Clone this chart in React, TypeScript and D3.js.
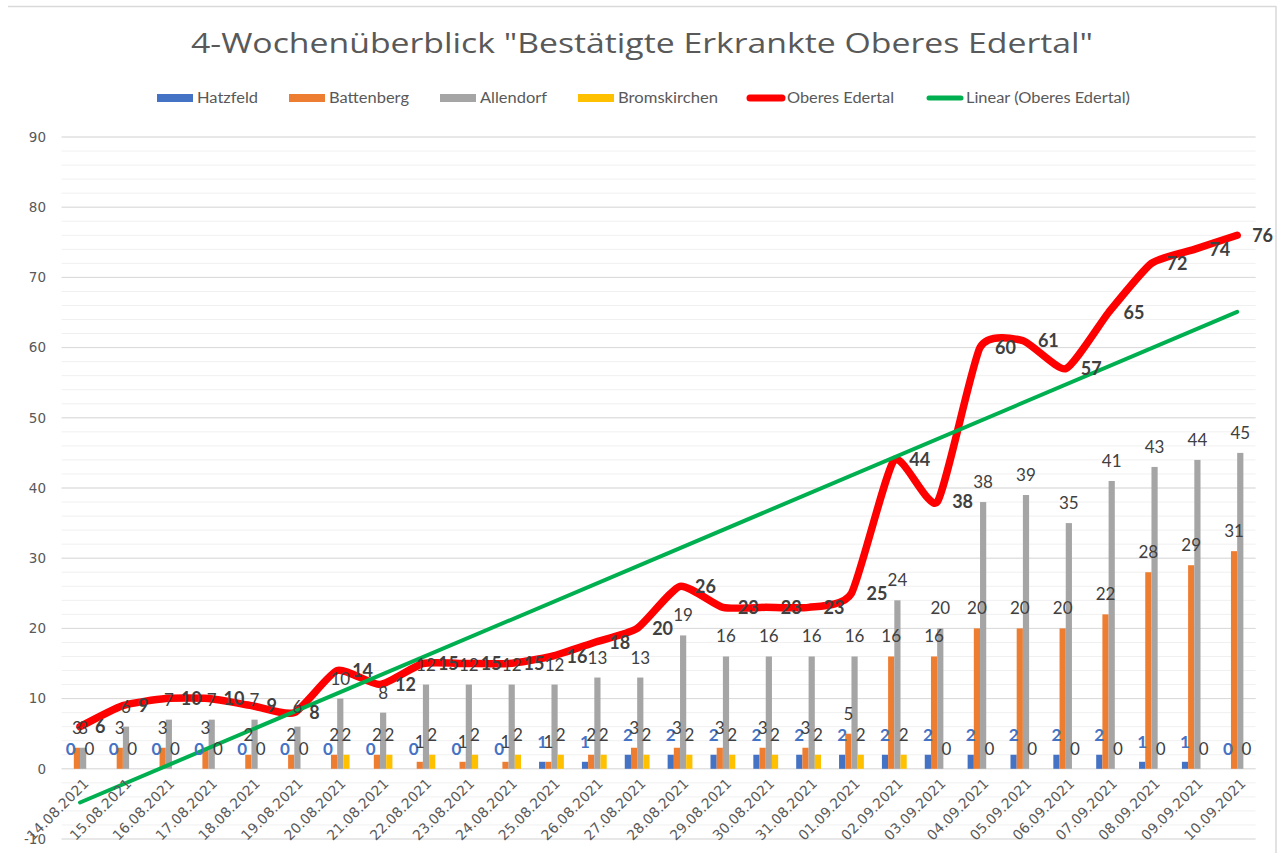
import React from 'react';
import * as d3 from 'd3';

const dates = [
  '14.08.2021', '15.08.2021', '16.08.2021', '17.08.2021', '18.08.2021', '19.08.2021', '20.08.2021',
  '21.08.2021', '22.08.2021', '23.08.2021', '24.08.2021', '25.08.2021', '26.08.2021', '27.08.2021',
  '28.08.2021', '29.08.2021', '30.08.2021', '31.08.2021', '01.09.2021', '02.09.2021', '03.09.2021',
  '04.09.2021', '05.09.2021', '06.09.2021', '07.09.2021', '08.09.2021', '09.09.2021', '10.09.2021',
];
const hatzfeld = [0, 0, 0, 0, 0, 0, 0, 0, 0, 0, 0, 1, 1, 2, 2, 2, 2, 2, 2, 2, 2, 2, 2, 2, 2, 1, 1, 0];
const battenberg = [3, 3, 3, 3, 2, 2, 2, 2, 1, 1, 1, 1, 2, 3, 3, 3, 3, 3, 5, 16, 16, 20, 20, 20, 22, 28, 29, 31];
const allendorf = [3, 6, 7, 7, 7, 6, 10, 8, 12, 12, 12, 12, 13, 13, 19, 16, 16, 16, 16, 24, 20, 38, 39, 35, 41, 43, 44, 45];
const bromskirchen = [0, 0, 0, 0, 0, 0, 2, 2, 2, 2, 2, 2, 2, 2, 2, 2, 2, 2, 2, 2, 0, 0, 0, 0, 0, 0, 0, 0];
const oberesEdertal = [6, 9, 10, 10, 9, 8, 14, 12, 15, 15, 15, 16, 18, 20, 26, 23, 23, 23, 25, 44, 38, 60, 61, 57, 65, 72, 74, 76];
const yTicks = [-10, 0, 10, 20, 30, 40, 50, 60, 70, 80, 90];
const minorTicks = d3.range(-10, 91, 2);

const title = '4-Wochenüberblick "Bestätigte Erkrankte Oberes Edertal"';

const barSeries = [
  { name: 'Hatzfeld', values: hatzfeld, color: '#4472C4' },
  { name: 'Battenberg', values: battenberg, color: '#ED7D31' },
  { name: 'Allendorf', values: allendorf, color: '#A5A5A5' },
  { name: 'Bromskirchen', values: bromskirchen, color: '#FFC000' },
];

const legendItems = [
  { name: 'Hatzfeld', color: '#4472C4', type: 'bar', x: 157, w: 61 },
  { name: 'Battenberg', color: '#ED7D31', type: 'bar', x: 289, w: 80 },
  { name: 'Allendorf', color: '#A5A5A5', type: 'bar', x: 440, w: 67 },
  { name: 'Bromskirchen', color: '#FFC000', type: 'bar', x: 578, w: 100 },
  { name: 'Oberes Edertal', color: '#FF0000', type: 'line', x: 747, w: 107 },
  { name: 'Linear (Oberes Edertal)', color: '#00B050', type: 'line', x: 926, w: 164 },
];

export default function App() {
  const W = 1278;
  const H = 853;
  const left = 58.6;
  const right = 1258.6;
  const x = d3.scaleBand<string>().domain(dates).range([left, right]).padding(0);
  const y = d3.scaleLinear().domain([-10, 90]).range([839, 137]);
  const cx = (d: string) => (x(d) as number) + x.bandwidth() / 2;
  const bw = 6.2;
  const nS = barSeries.length;

  // Linear trend (least squares) of Oberes Edertal over category index
  const n = oberesEdertal.length;
  const idx = d3.range(n);
  const mx = d3.mean(idx) as number;
  const my = d3.mean(oberesEdertal) as number;
  const slope =
    d3.sum(idx, (i) => (i - mx) * (oberesEdertal[i] - my)) / d3.sum(idx, (i) => (i - mx) * (i - mx));
  const intercept = my - slope * mx;

  const redLine = d3
    .line<number>()
    .x((_, i) => cx(dates[i]))
    .y((v) => y(v))
    .curve(d3.curveCardinal.tension(0.45));

  const trendPath = d3.line<number>().x((i) => cx(dates[i])).y((i) => y(intercept + slope * i))([0, n - 1]);

  const font = '"Open Sans", Lato, sans-serif';
  const labelFont = 'Lato, "Open Sans", sans-serif';
  const tickFont = '"DejaVu Sans", sans-serif';

  return (
    <svg
      width={W}
      height={H}
      style={{ position: 'absolute', left: 0, top: 0, background: '#fff' }}
      viewBox={`0 0 ${W} ${H}`}
    >
      <rect x={0} y={0} width={W} height={H} fill="#fff" />
      {/* frame */}
      <line x1={8} x2={1276} y1={6.5} y2={6.5} stroke="#d9d9d9" strokeWidth={1.5} />
      <line x1={1276} x2={1276} y1={6} y2={H} stroke="#d9d9d9" strokeWidth={1.5} />

      {/* title */}
      <text
        x={191}
        y={53}
        textLength={902}
        lengthAdjust="spacingAndGlyphs"
        fontFamily={font}
        fontSize={27}
        fill="#595959"
      >
        {title}
      </text>

      {/* legend */}
      {legendItems.map((it) => (
        <g key={it.name}>
          {it.type === 'bar' ? (
            <rect x={it.x} y={94} width={36} height={8} fill={it.color} />
          ) : (
            <line
              x1={it.x + 3}
              x2={it.x + 35}
              y1={98}
              y2={98}
              stroke={it.color}
              strokeWidth={it.name === 'Oberes Edertal' ? 7 : 5}
              strokeLinecap="round"
            />
          )}
          <text
            x={it.x + 40}
            y={98}
            dy="0.35em"
            textLength={it.w}
            lengthAdjust="spacingAndGlyphs"
            fontFamily={labelFont}
            fontSize={14.5}
            fill="#595959"
          >
            {it.name}
          </text>
        </g>
      ))}

      {/* gridlines */}
      {minorTicks.map((t) => (
        <line key={'m' + t} x1={left + 3} x2={right - 3} y1={y(t)} y2={y(t)} stroke="#f0f0f0" strokeWidth={1} />
      ))}
      {yTicks.map((t) => (
        <line key={'g' + t} x1={left + 3} x2={right - 3} y1={y(t)} y2={y(t)} stroke="#d9d9d9" strokeWidth={1} />
      ))}

      {/* y axis labels */}
      {yTicks.map((t) => (
        <text
          key={'yl' + t}
          x={46}
          y={y(t)}
          dy="0.35em"
          textAnchor="end"
          fontFamily={tickFont}
          fontSize={13.5}
          fill="#595959"
        >
          {t}
        </text>
      ))}

      {/* bars */}
      {barSeries.map((s, si) =>
        s.values.map((v, i) => {
          const bx = cx(dates[i]) - (nS * bw) / 2 + si * bw;
          return (
            <rect
              key={s.name + i}
              x={bx}
              y={y(Math.max(v, 0))}
              width={bw}
              height={Math.abs(y(v) - y(0))}
              fill={s.color}
            />
          );
        })
      )}

      {/* red line */}
      <path
        d={redLine(oberesEdertal) as string}
        fill="none"
        stroke="#FF0000"
        strokeWidth={7.5}
        strokeLinejoin="round"
        strokeLinecap="round"
      />

      {/* trend line */}
      <path d={trendPath as string} fill="none" stroke="#00B050" strokeWidth={4} strokeLinecap="round" />

      {/* bar labels */}
      {barSeries.map((s, si) =>
        s.values.map((v, i) => {
          const bx = cx(dates[i]) - (nS * bw) / 2 + si * bw + bw / 2;
          return (
            <text
              key={'bl' + s.name + i}
              x={bx}
              y={y(v) - 14}
              textAnchor="middle"
              fontFamily={labelFont}
              fontSize={17}
              fontWeight={si === 0 ? 700 : 400}
              fill={si === 0 ? '#4472C4' : '#404040'}
            >
              {v}
            </text>
          );
        })
      )}

      {/* red line labels */}
      {oberesEdertal.map((v, i) => (
        <text
          key={'rl' + i}
          x={cx(dates[i]) + 15}
          y={y(v)}
          dy="0.35em"
          fontFamily={labelFont}
          fontSize={18}
          fontWeight={700}
          fill="#404040"
        >
          {v}
        </text>
      ))}

      {/* x axis labels */}
      {dates.map((d) => (
        <text
          key={'xl' + d}
          transform={`translate(${cx(d) + 6},${781}) rotate(-45)`}
          textAnchor="end"
          dy="0.35em"
          fontFamily={tickFont}
          fontSize={14}
          fill="#595959"
        >
          {d}
        </text>
      ))}
    </svg>
  );
}
